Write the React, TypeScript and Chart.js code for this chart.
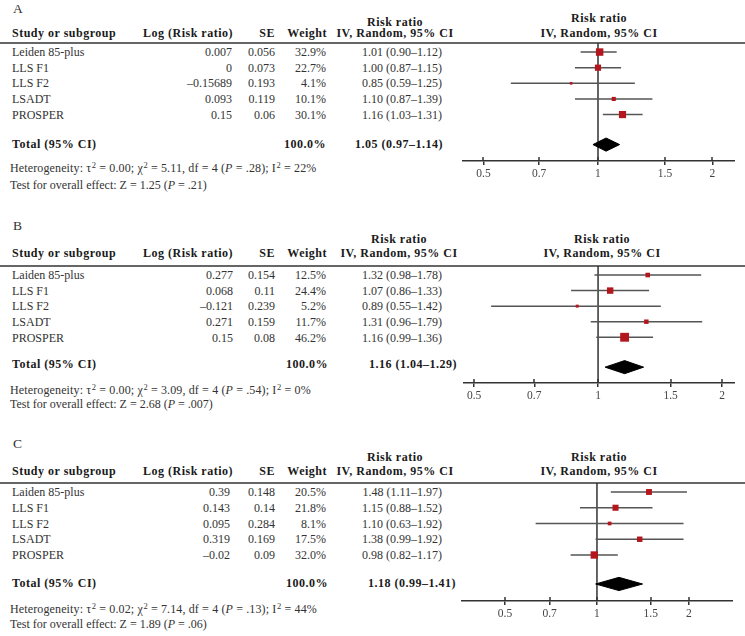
import React, { useEffect, useRef } from 'react';
import { Chart, registerables } from 'chart.js';

Chart.register(...registerables);

// ---------- data ----------
const STUDIES_A = ['Leiden 85-plus', 'LLS F1', 'LLS F2', 'LSADT', 'PROSPER'];
const STUDIES_BC = ['Laiden 85-plus', 'LLS F1', 'LLS F2', 'LSADT', 'PROSPER'];

const A_LOG = ['0.007', '0', '–0.15689', '0.093', '0.15'];
const A_SE = ['0.056', '0.073', '0.193', '0.119', '0.06'];
const A_WEIGHT = [32.9, 22.7, 4.1, 10.1, 30.1];
const A_RR = [1.01, 1.0, 0.85, 1.1, 1.16];
const A_LO = [0.9, 0.87, 0.59, 0.87, 1.03];
const A_HI = [1.12, 1.15, 1.25, 1.39, 1.31];
const A_TOTAL = [1.05, 0.97, 1.14];
const A_HET = ['0.00', '5.11', '4', '.28', '22%'];
const A_Z = ['1.25', '.21'];

const B_LOG = ['0.277', '0.068', '–0.121', '0.271', '0.15'];
const B_SE = ['0.154', '0.11', '0.239', '0.159', '0.08'];
const B_WEIGHT = [12.5, 24.4, 5.2, 11.7, 46.2];
const B_RR = [1.32, 1.07, 0.89, 1.31, 1.16];
const B_LO = [0.98, 0.86, 0.55, 0.96, 0.99];
const B_HI = [1.78, 1.33, 1.42, 1.79, 1.36];
const B_TOTAL = [1.16, 1.04, 1.29];
const B_HET = ['0.00', '3.09', '4', '.54', '0%'];
const B_Z = ['2.68', '.007'];

const C_LOG = ['0.39', '0.143', '0.095', '0.319', '–0.02'];
const C_SE = ['0.148', '0.14', '0.284', '0.169', '0.09'];
const C_WEIGHT = [20.5, 21.8, 8.1, 17.5, 32.0];
const C_RR = [1.48, 1.15, 1.1, 1.38, 0.98];
const C_LO = [1.11, 0.88, 0.63, 0.99, 0.82];
const C_HI = [1.97, 1.52, 1.92, 1.92, 1.17];
const C_TOTAL = [1.18, 0.99, 1.41];
const C_HET = ['0.02', '7.14', '4', '.13', '44%'];
const C_Z = ['1.89', '.06'];

const TICKS = [0.5, 0.7, 1, 1.5, 2];

// ---------- layout ----------
const W = 745;
const H = 636;
const FONT = '"Liberation Serif", "Times New Roman", serif';

const PANELS = [
  {
    letter: 'A', studies: STUDIES_A, log: A_LOG, se: A_SE, weight: A_WEIGHT, rr: A_RR, lo: A_LO, hi: A_HI,
    total: A_TOTAL, het: A_HET, z: A_Z,
    letterY: 9, h1Y: 21.5, h2Y: 33, rh1Y: 18, rh2Y: 33, rhX: 599, lhX: 395, ruleY: 42.5,
    rowY: [52.2, 67.8, 83.4, 99, 114.6], logRight: 232, totalY: 144, totWRight: 326, totRRRight: 443,
    hetY: 167.5, testY: 184.5,
    chart: { left: 462, top: 43, width: 273, height: 148, xMin: 0.439, xMax: 2.292, yMin: -0.58, yMax: 6.97, totalRow: 5.92 },
  },
  {
    letter: 'B', studies: STUDIES_BC, log: B_LOG, se: B_SE, weight: B_WEIGHT, rr: B_RR, lo: B_LO, hi: B_HI,
    total: B_TOTAL, het: B_HET, z: B_Z,
    letterY: 225.5, h1Y: 239, h2Y: 253, rh1Y: 238.5, rh2Y: 252.5, rhX: 602, lhX: 399, ruleY: 265.5,
    rowY: [275.1, 290.7, 306.3, 321.9, 337.5], logRight: 233, totalY: 364, totWRight: 328, totRRRight: 457,
    hetY: 389.5, testY: 404,
    chart: { left: 463, top: 266, width: 272, height: 147, xMin: 0.47, xMax: 2.15, yMin: -0.58, yMax: 6.94, totalRow: 5.92 },
  },
  {
    letter: 'C', studies: STUDIES_BC, log: C_LOG, se: C_SE, weight: C_WEIGHT, rr: C_RR, lo: C_LO, hi: C_HI,
    total: C_TOTAL, het: C_HET, z: C_Z,
    letterY: 443.5, h1Y: 457, h2Y: 471, rh1Y: 456.5, rh2Y: 471, rhX: 599, lhX: 395, ruleY: 483,
    rowY: [492.2, 507.9, 523.7, 539.4, 555.2], logRight: 230, totalY: 583, totWRight: 328, totRRRight: 456,
    hetY: 609, testY: 623.5,
    chart: { left: 461, top: 483, width: 272, height: 148, xMin: 0.359, xMax: 2.787, yMin: -0.57, yMax: 6.92, totalRow: 5.84 },
  },
];

const fmtCI = (r: number, l: number, h: number) => `${r.toFixed(2)} (${l.toFixed(2)}–${h.toFixed(2)})`;

type TProps = { x: number; y: number; align?: 'left' | 'right' | 'center'; bold?: boolean; size?: number; children: React.ReactNode; color?: string; ls?: number };
function T({ x, y, align = 'left', bold = false, size = 12, children, color, ls }: TProps) {
  const st: React.CSSProperties = {
    position: 'absolute',
    top: y - 7,
    lineHeight: '14px',
    height: 14,
    whiteSpace: 'nowrap',
    fontSize: size,
    fontWeight: bold ? 700 : 400,
    color: color || (bold ? '#1a1a1a' : '#333'),
    letterSpacing: ls !== undefined ? ls : bold ? 0.5 : 0,
  };
  if (align === 'left') st.left = x;
  else if (align === 'right') st.right = W - x;
  else { st.left = x; st.transform = 'translateX(-50%)'; }
  return <div style={st}>{children}</div>;
}

const Sup = ({ children }: { children: React.ReactNode }) => (
  <span style={{ fontSize: 8.5, position: 'relative', top: -4, marginLeft: 0.5 }}>{children}</span>
);

const tickUp = {
  id: 'tickUp',
  afterDraw(chart: any) {
    const s = chart.scales.x;
    const ctx = chart.ctx;
    const yb = chart.chartArea.bottom;
    ctx.save();
    ctx.strokeStyle = '#333';
    ctx.lineWidth = 1.5;
    s.ticks.forEach((t: any) => {
      const px = Math.round(s.getPixelForValue(t.value));
      ctx.beginPath();
      ctx.moveTo(px, yb);
      ctx.lineTo(px, yb - 4);
      ctx.stroke();
    });
    ctx.restore();
  },
};

function Forest({ p }: { p: any }) {
  const ref = useRef<HTMLCanvasElement>(null);
  useEffect(() => {
    const c = p.chart;
    const dh = 0.42;
    const ciSets = p.rr.map((_: number, i: number) => ({
      showLine: true,
      data: [{ x: p.lo[i], y: i }, { x: p.hi[i], y: i }],
      borderColor: '#555',
      borderWidth: 1.5,
      pointRadius: 0,
      order: 3,
    }));
    const chart = new Chart(ref.current as HTMLCanvasElement, {
      type: 'scatter',
      data: {
        datasets: [
          {
            data: p.rr.map((v: number, i: number) => ({ x: v, y: i })),
            pointStyle: 'rect',
            pointRadius: p.weight.map((w: number) => (1.3 * Math.sqrt(w)) / Math.SQRT2),
            backgroundColor: '#b3161c',
            borderWidth: 0,
            pointBorderWidth: 0,
            order: 1,
          } as any,
          {
            showLine: true,
            data: [
              { x: p.total[1], y: c.totalRow },
              { x: p.total[0], y: c.totalRow - dh },
              { x: p.total[2], y: c.totalRow },
              { x: p.total[0], y: c.totalRow + dh },
              { x: p.total[1], y: c.totalRow },
            ],
            fill: 'shape',
            backgroundColor: '#000',
            borderColor: '#000',
            borderWidth: 1,
            pointRadius: 0,
            tension: 0,
            order: 2,
          } as any,
          ...ciSets,
          {
            showLine: true,
            data: [{ x: 1, y: c.yMin }, { x: 1, y: c.yMax }],
            borderColor: '#333',
            borderWidth: 1.5,
            pointRadius: 0,
            order: 4,
          },
        ],
      },
      options: {
        animation: false,
        responsive: false,
        maintainAspectRatio: false,
        devicePixelRatio: 1,
        events: [],
        layout: { padding: 0, autoPadding: false },
        plugins: { legend: { display: false }, tooltip: { enabled: false } },
        scales: {
          x: {
            type: 'logarithmic',
            min: c.xMin,
            max: c.xMax,
            bounds: 'data',
            position: 'bottom',
            afterBuildTicks: (s: any) => {
              s.ticks = TICKS.map((v) => ({ value: v }));
            },
            afterFit: (s: any) => {
              s.height = 30;
            },
            border: { display: true, color: '#333', width: 1.5 },
            grid: { drawOnChartArea: false, drawTicks: true, tickLength: 4, color: '#333', lineWidth: 1.5 },
            ticks: {
              autoSkip: false,
              maxRotation: 0,
              padding: 2,
              color: '#444',
              font: { family: FONT, size: 11.5 },
              callback: (v: any) => String(v),
            },
          },
          y: { type: 'linear', display: false, bounds: 'data', reverse: true, min: c.yMin, max: c.yMax },
        },
      } as any,
      plugins: [tickUp],
    });
    return () => chart.destroy();
  }, []);
  const c = p.chart;
  return (
    <canvas
      ref={ref}
      width={c.width}
      height={c.height}
      style={{ position: 'absolute', left: c.left, top: c.top, width: c.width, height: c.height }}
    />
  );
}

function Panel({ p }: { p: any }) {
  return (
    <>
      <T x={13} y={p.letterY} size={13.5} color="#333">{p.letter}</T>
      {/* left header */}
      <T x={p.lhX} y={p.h1Y} align="center" bold>Risk ratio</T>
      <T x={p.lhX} y={p.h2Y} align="center" bold>IV, Random, 95% CI</T>
      <T x={12} y={p.h2Y} bold>Study or subgroup</T>
      <T x={233} y={p.h2Y} align="right" bold>Log (Risk ratio)</T>
      <T x={275} y={p.h2Y} align="right" bold>SE</T>
      <T x={327} y={p.h2Y} align="right" bold>Weight</T>
      {/* right header */}
      <T x={p.rhX} y={p.rh1Y} align="center" bold>Risk ratio</T>
      <T x={p.rhX} y={p.rh2Y} align="center" bold>IV, Random, 95% CI</T>
      <div style={{ position: 'absolute', left: 0, width: W, top: p.ruleY - 1, height: 2, background: '#666' }} />
      {p.studies.map((s: string, i: number) => (
        <React.Fragment key={s + i}>
          <T x={12} y={p.rowY[i]}>{s}</T>
          <T x={p.logRight} y={p.rowY[i]} align="right">{p.log[i]}</T>
          <T x={275} y={p.rowY[i]} align="right">{p.se[i]}</T>
          <T x={326} y={p.rowY[i]} align="right">{p.weight[i].toFixed(1)}%</T>
          <T x={442} y={p.rowY[i]} align="right">{fmtCI(p.rr[i], p.lo[i], p.hi[i])}</T>
        </React.Fragment>
      ))}
      <T x={12} y={p.totalY} bold>Total (95% CI)</T>
      <T x={p.totWRight} y={p.totalY} align="right" bold>100.0%</T>
      <T x={p.totRRRight} y={p.totalY} align="right" bold>{fmtCI(p.total[0], p.total[1], p.total[2])}</T>
      <T x={10} y={p.hetY} ls={0.13}>
        Heterogeneity: τ<Sup>2</Sup> = {p.het[0]}; χ<Sup>2</Sup> = {p.het[1]}, df = {p.het[2]} (<i>P</i> = {p.het[3]}); I<Sup>2</Sup> = {p.het[4]}
      </T>
      <T x={10} y={p.testY}>
        Test for overall effect: Z = {p.z[0]} (<i>P</i> = {p.z[1]})
      </T>
      <Forest p={p} />
    </>
  );
}

export default function App() {
  return (
    <div
      style={{
        position: 'absolute',
        left: 0,
        top: 0,
        width: W,
        height: H,
        background: '#fff',
        overflow: 'hidden',
        fontFamily: FONT,
      }}
    >
      {PANELS.map((p) => (
        <Panel key={p.letter} p={p} />
      ))}
    </div>
  );
}
